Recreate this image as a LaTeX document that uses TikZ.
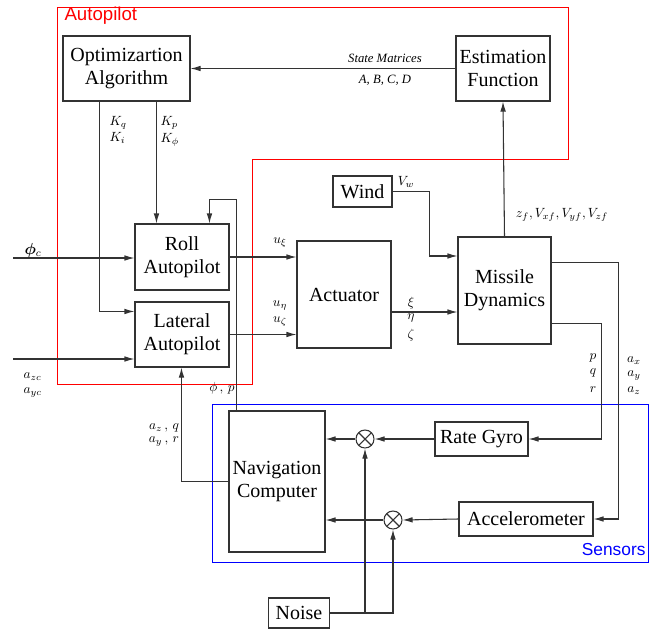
\documentclass[tikz,border=0pt]{standalone}
\usepackage{fontspec}
\usepackage{amsmath}
\usepackage{bm}
\setmainfont{Liberation Serif}
\newfontfamily\labsans{Liberation Sans}
\newfontfamily\boxserif{Liberation Serif}
\usetikzlibrary{arrows.meta,calc}
\begin{document}
\begin{tikzpicture}[x=0.75pt,y=-0.75pt,
  line width=0.8pt,
  box/.style={draw=black!80,fill=white,align=center,inner sep=1pt,font=\boxserif\fontsize{15}{17}\selectfont},
  arr/.style={draw=black!80,-{Latex[length=7.5pt,width=4.2pt]}},
  lab/.style={inner sep=0pt,font=\fontsize{10}{12}\selectfont},
  sumj/.style={circle,draw=black!80,fill=white,minimum size=13.5pt,inner sep=0pt,
    path picture={\draw[black!80] (path picture bounding box.north west)--(path picture bounding box.south east)
      (path picture bounding box.north east)--(path picture bounding box.south west);}}
]
\useasboundingbox (0,0) rectangle (665,629);

% frames
\draw[draw=red,line width=0.6pt] (57,7) -- (568,7) -- (568,159) -- (252,159) -- (252,384) -- (57,384) -- cycle;
\node[anchor=west,text=red,inner sep=0pt,font=\labsans\fontsize{14}{16}\selectfont] (aplab) at (64,16) {Autopilot};
\draw[draw=blue,line width=0.6pt] (212,404) rectangle (648,562);
\node[anchor=east,text=blue,inner sep=0pt,font=\labsans\fontsize{13}{15}\selectfont] (senlab) at (646,550) {Sensors};

% blocks
\node[box,minimum width=127*0.75pt,minimum height=65*0.75pt] (opt) at (126.5,68.5) {Optimizartion\\Algorithm};
\node[box,minimum width=94*0.75pt,minimum height=65*0.75pt] (est) at (503,68.5) {Estimation\\Function};
\node[box,minimum width=94*0.75pt,minimum height=66*0.75pt] (roll) at (182,257) {Roll\\Autopilot};
\node[box,minimum width=94*0.75pt,minimum height=65*0.75pt] (lat) at (182,334.5) {Lateral\\Autopilot};
\node[box,minimum width=94*0.75pt,minimum height=107*0.75pt] (act) at (344,294.5) {Actuator};
\node[box,minimum width=93*0.75pt,minimum height=107*0.75pt] (mis) at (504.5,290.5) {Missile\\Dynamics};
\node[box,minimum width=59*0.75pt,minimum height=31*0.75pt] (wind) at (362.5,191.5) {Wind};
\node[box,minimum width=93*0.75pt,minimum height=34*0.75pt] (gyro) at (481.5,439) {Rate Gyro};
\node[box,minimum width=134*0.75pt,minimum height=34*0.75pt] (acc) at (526,519) {Accelerometer};
\node[box,minimum width=96*0.75pt,minimum height=141*0.75pt] (nav) at (277,481.5) {Navigation\\Computer};
\node[box,minimum width=61*0.75pt,minimum height=30*0.75pt] (noise) at (299,613) {Noise};
\node[sumj] (s1) at (365,439) {};
\node[sumj] (s2) at (393,520) {};

% inputs
\coordinate (phic) at (13,258);
\coordinate (azc) at (13,359);

% connectors
\draw[arr] (est.west) -- (opt.east);
\draw[arr] ($(opt.south west)+(37,0)$) |- ($(lat.north west)+(0,10)$);
\draw[arr] ($(opt.south west)+(94,0)$) -- ($(roll.north west)+(22,0)$);
\draw[arr] ($(nav.north west)+(8,0)$) -- ++(0,-211) -- ++(-27,0) -- ($(roll.north west)+(75,0)$);
\draw[arr] (phic) -- (roll.west |- phic);
\draw[arr] (azc) -- (lat.west |- azc);
\draw[arr] (roll.east) -- (act.west |- roll.east);
\draw[arr] (lat.east) -- (act.west |- lat.east);
\draw[arr] ($(act.east)+(0,17.5)$) -- ($(mis.west)+(0,21.5)$);
\draw[arr] (wind.east) -- ++(37,0) |- ($(mis.west)+(0,-34.5)$);
\draw[arr] (mis.north) -- (est.south);
\draw[arr] ($(mis.north east)+(0,26)$) -- ++(67,0) |- (acc.east);
\draw[arr] ($(mis.south east)+(0,-21)$) -- ++(50,0) |- (gyro.east);
\draw[arr] (gyro.west) -- (s1.east);
\draw[arr] (s1.west) -- (nav.east |- s1);
\draw[arr] (acc.west) -- (s2.east);
\draw[arr] (s2.west) -- (nav.east |- s2);
\draw[arr] (noise.east) -| (s1.south);
\draw[arr] (noise.east) -| (s2.south);
\draw[arr] (nav.west) -| ($(lat.south west)+(47,0)$);

% labels
\node[lab,font=\fontsize{9.5}{11}\itshape] (sm) at (385,58) {State Matrices};
\node[lab,font=\fontsize{9.5}{11}\itshape] (abcd) at (385,80) {A, B, C, D};
\node[lab,anchor=west] (kq) at (109,123) {$K_q$};
\node[lab,anchor=west] (ki) at (109,138) {$K_i$};
\node[lab,anchor=west] (kp) at (160,123) {$K_p$};
\node[lab,anchor=west] (kphi) at (160,140) {$K_\phi$};
\node[lab,font=\fontsize{12}{14}\selectfont] (phicl) at (33,250) {$\bm{\phi}_c$};
\node[lab,anchor=west] (azcl) at (23,377) {$a_{zc}$};
\node[lab,anchor=west] (aycl) at (23,393) {$a_{yc}$};
\node[lab] (uxi) at (280,243) {$u_\xi$};
\node[lab] (ueta) at (280,306) {$u_\eta$};
\node[lab] (uzeta) at (280,322) {$u_\zeta$};
\node[lab] (xi) at (411,303) {$\xi$};
\node[lab] (eta) at (411,318) {$\eta$};
\node[lab] (zeta) at (411,335) {$\zeta$};
\node[lab] (vw) at (406,182) {$V_w$};
\node[lab] (zf) at (562,215) {$z_f, V_{xf}, V_{yf}, V_{zf}$};
\node[lab] (lp) at (593,358) {$p$};
\node[lab] (lq) at (593,373) {$q$};
\node[lab] (lr) at (593,390) {$r$};
\node[lab] (ax) at (634,361) {$a_x$};
\node[lab] (ay) at (634,376) {$a_y$};
\node[lab] (az) at (634,391) {$a_z$};
\node[lab] (phip) at (222,388) {$\phi\,,\,p$};
\node[lab] (azq) at (164,428) {$a_z\,,\,q$};
\node[lab] (ayr) at (164,442) {$a_y\,,\,r$};
\end{tikzpicture}
\end{document}
